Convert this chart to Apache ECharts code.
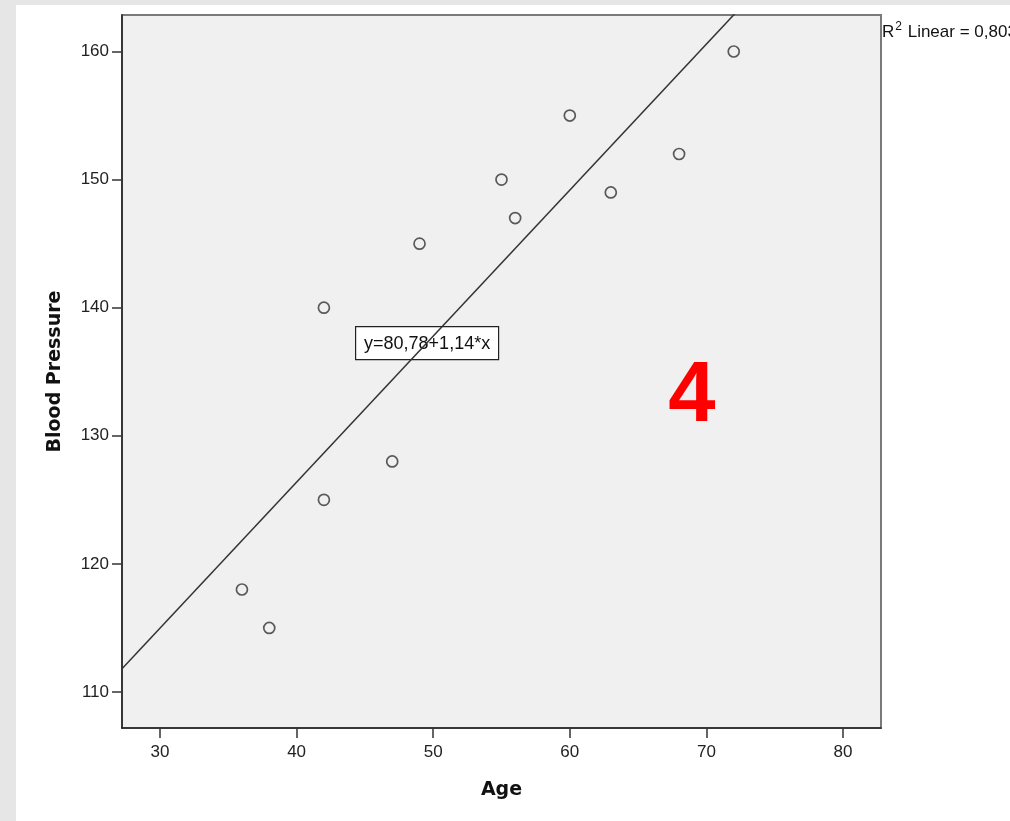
<!DOCTYPE html>
<html>
<head>
<meta charset="utf-8">
<script src="https://cdn.jsdelivr.net/npm/echarts@6/dist/echarts.min.js"></script>
<style>
  html, body { margin: 0; padding: 0; background: #fff; }
  #chart { width: 1010px; height: 821px; }
</style>
</head>
<body>
<div id="chart"></div>
<script>
  // data
  const ages = [36, 38, 42, 42, 47, 49, 55, 56, 60, 63, 68, 72];
  const pressures = [118, 115, 140, 125, 128, 145, 150, 147, 155, 149, 152, 160];
  const xTicks = [30, 40, 50, 60, 70, 80];
  const yTicks = [110, 120, 130, 140, 150, 160];
  const xRange = [27.22, 82.78];
  const yRange = [107.19, 162.85];
  const fitIntercept = 80.78;
  const fitSlope = 1.14;
  const fitLabel = 'y=80,78+1,14*x';
  const r2Label = '0,803';

  const points = ages.map((a, i) => [a, pressures[i]]);
  const fitLine = xRange.map(x => [x, fitIntercept + fitSlope * x]);

  const chart = echarts.init(document.getElementById('chart'));
  chart.setOption({
    animation: false,
    backgroundColor: '#fff',
    grid: {
      left: 122,
      top: 15,
      right: 129,
      bottom: 93,
      show: true,
      backgroundColor: '#f0f0f0',
      borderColor: '#7a7a7a',
      borderWidth: 2
    },
    xAxis: {
      type: 'value',
      min: xRange[0],
      max: xRange[1],
      name: 'Age',
      nameLocation: 'middle',
      nameGap: 53,
      nameTextStyle: { fontFamily: 'DejaVu Sans', fontWeight: 'bold', fontSize: 19, color: '#111' },
      axisLine: { show: true, lineStyle: { color: '#222', width: 1.5 } },
      axisTick: { show: true, length: 10, customValues: xTicks, lineStyle: { color: '#333', width: 1.5 } },
      axisLabel: { customValues: xTicks, margin: 16, fontFamily: 'Liberation Sans', fontSize: 17, color: '#222' },
      splitLine: { show: false }
    },
    yAxis: {
      type: 'value',
      min: yRange[0],
      max: yRange[1],
      name: 'Blood Pressure',
      nameLocation: 'middle',
      nameGap: 57,
      nameTextStyle: { fontFamily: 'DejaVu Sans', fontWeight: 'bold', fontSize: 19, color: '#111' },
      axisLine: { show: true, lineStyle: { color: '#222', width: 1.5 } },
      axisTick: { show: true, length: 10, customValues: yTicks, lineStyle: { color: '#333', width: 1.5 } },
      axisLabel: { customValues: yTicks, margin: 13, fontFamily: 'Liberation Sans', fontSize: 17, color: '#222' },
      splitLine: { show: false }
    },
    series: [
      {
        type: 'line',
        data: fitLine,
        clip: true,
        showSymbol: false,
        lineStyle: { color: '#333', width: 1.5 },
        silent: true
      },
      {
        type: 'scatter',
        data: points,
        symbol: 'circle',
        symbolSize: 11,
        itemStyle: { color: 'rgba(0,0,0,0)', borderColor: '#333', borderWidth: 1.7 }
      }
    ],
    graphic: [
      { type: 'rect', left: 0, top: 0, shape: { width: 16, height: 821 }, style: { fill: '#e6e6e6' }, z: 100 },
      { type: 'rect', left: 0, top: 0, shape: { width: 1010, height: 5 }, style: { fill: '#e6e6e6' }, z: 100 },
      {
        type: 'group', left: 355, top: 326, z: 100,
        children: [
          { type: 'rect', shape: { x: 0, y: 0, width: 143, height: 33 }, style: { fill: '#fff', stroke: '#222', lineWidth: 1.2 } },
          { type: 'text', x: 71.5, y: 17, style: { text: fitLabel, font: '18px "Liberation Sans"', fill: '#111', align: 'center', verticalAlign: 'middle' } }
        ]
      },
      {
        type: 'text', left: 882, top: 21, z: 100,
        style: {
          text: '{b|R}{s|2}{b| Linear = ' + r2Label + '}',
          rich: {
            b: { fontFamily: 'Liberation Sans', fontSize: 17, fill: '#111', verticalAlign: 'bottom' },
            s: { fontFamily: 'Liberation Sans', fontSize: 12, fill: '#111', verticalAlign: 'top', padding: [0, 1, 8, 1] }
          }
        }
      },
      {
        type: 'text', x: 692, y: 398, z: 100,
        style: { text: '4', font: 'bold 85px "Liberation Sans"', fill: '#ff0000', align: 'center', verticalAlign: 'middle' }
      }
    ]
  });
</script>
</body>
</html>
